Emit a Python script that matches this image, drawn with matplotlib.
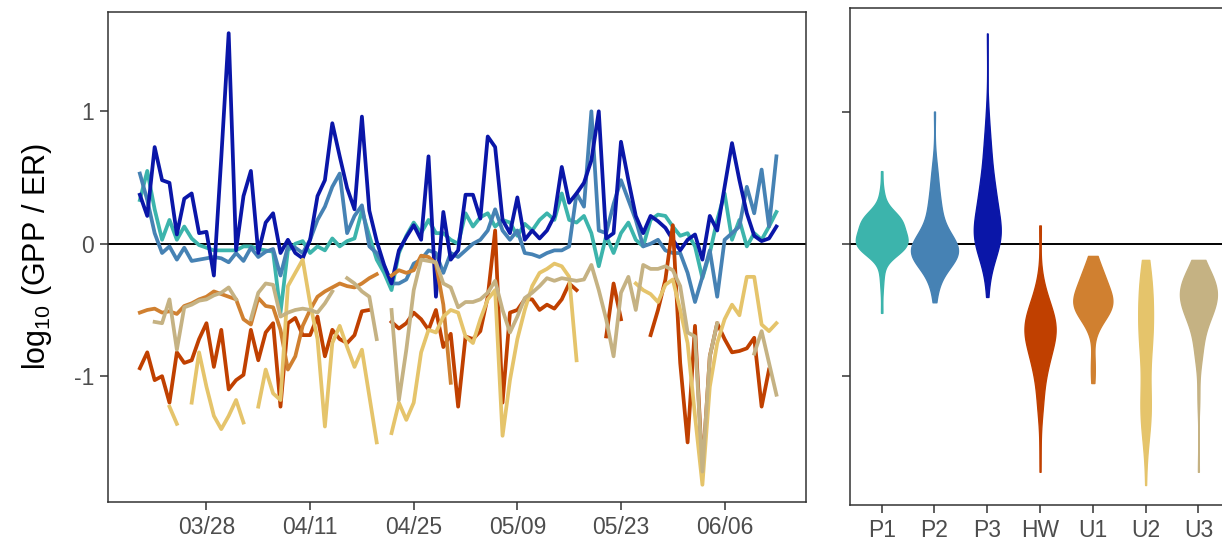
import numpy as np
import pandas as pd
import matplotlib
matplotlib.use('Agg')
import matplotlib.pyplot as plt
import matplotlib.dates as mdates

nan = np.nan
dates = pd.date_range('2021-03-19', periods=87, freq='D')
sites = ['P1', 'P2', 'P3', 'HW', 'U1', 'U2', 'U3']
colors = ['#3CB4AC', '#4682B4', '#0A16A8', '#C04000', '#D08030', '#E5C46B', '#C5B283']

P1 = [0.33, 0.55, 0.26, 0.03, 0.18, 0.03, 0.13, 0.04, -0.01, -0.03,
      -0.05, -0.05, -0.05, -0.05, -0.02, -0.02, -0.04, -0.05, -0.06, -0.52,
      -0.05, 0.0, 0.02, -0.07, -0.02, -0.05, 0.04, -0.02, 0.02, 0.04,
      0.25, 0.06, -0.12, -0.22, -0.35, -0.07, 0.06, 0.16, 0.08, 0.18,
      0.08, 0.08, 0.03, 0.0, 0.23, 0.13, 0.2, 0.23, 0.13, 0.18,
      0.16, 0.06, 0.15, 0.1, 0.18, 0.23, 0.18, 0.38, 0.18, 0.16,
      0.21, 0.08, -0.17, 0.06, -0.07, 0.08, 0.16, 0.03, -0.02, 0.18,
      0.22, 0.21, 0.13, 0.06, 0.08, -0.02, -0.26, -0.07, 0.18, 0.38,
      0.03, 0.18, -0.02, 0.08, 0.03, 0.13, 0.24]
P2 = [0.53, 0.33, 0.08, -0.07, -0.02, -0.12, -0.03, -0.13, -0.12, -0.11,
      -0.1, -0.11, -0.14, -0.07, -0.13, -0.03, -0.1, -0.06, -0.04, -0.24,
      -0.02, -0.03, -0.07, 0.03, 0.18, 0.28, 0.43, 0.53, 0.08, 0.21,
      0.29, -0.02, -0.07, -0.17, -0.3, -0.3, -0.27, -0.15, -0.12, -0.05,
      -0.07, -0.22, -0.07, -0.1, -0.05, 0.0, 0.03, 0.1, 0.26, 0.1,
      0.03, 0.1, -0.07, -0.08, -0.1, -0.07, -0.05, -0.05, -0.02, 0.38,
      0.28, 1.0, 0.1, 0.08, 0.3, 0.48, 0.33, 0.18, -0.02, 0.0,
      0.03, -0.05, -0.07, -0.07, -0.22, -0.44, -0.25, -0.05, -0.4, 0.03,
      0.08, 0.13, 0.43, 0.23, 0.56, 0.13, 0.66]
P3 = [0.37, 0.21, 0.73, 0.48, 0.46, 0.07, 0.34, 0.38, 0.08, 0.09,
      -0.24, 0.65, 1.59, -0.05, 0.36, 0.55, -0.07, 0.16, 0.23, -0.07,
      0.03, -0.07, -0.11, 0.03, 0.36, 0.48, 0.91, 0.66, 0.42, 0.26,
      0.96, 0.25, 0.02, -0.16, -0.3, -0.05, 0.05, 0.14, 0.03, 0.66,
      -0.4, 0.24, -0.12, -0.05, 0.37, 0.37, 0.19, 0.81, 0.73, 0.18,
      0.08, 0.35, 0.03, 0.1, 0.04, 0.1, 0.21, 0.58, 0.31, 0.38,
      0.46, 0.63, 1.0, 0.04, 0.08, 0.77, 0.48, 0.21, 0.08, 0.21,
      0.17, 0.12, 0.03, -0.05, 0.03, 0.07, -0.12, 0.21, 0.1, 0.43,
      0.76, 0.48, 0.23, 0.06, 0.02, 0.04, 0.13]
HW = [-0.94, -0.82, -1.03, -1.0, -1.2, -0.82, -0.9, -0.88, -0.72, -0.6,
      -0.93, -0.65, -1.1, -1.03, -0.99, -0.65, -0.88, -0.67, -0.6, -1.23,
      -0.6, -0.56, -0.69, -0.69, -0.55, -0.85, -0.65, -0.72, -0.75, -0.69,
      -0.51, -0.5, nan, nan, -0.59, -0.64, -0.6, -0.52, -0.57, -0.65,
      -0.5, -0.78, -0.68, -1.23, -0.7, -0.72, -0.66, -0.4, 0.1, -1.2,
      -0.52, -0.5, -0.42, -0.42, -0.5, -0.46, -0.49, -0.42, -0.3, -0.35,
      nan, nan, nan, -0.7, -0.3, -0.57, nan, nan, nan, -0.69,
      -0.5, -0.27, 0.14, -0.9, -1.5, -0.62, -1.72, -0.85, -0.6, -0.72,
      -0.82, -0.81, -0.79, -0.71, -1.23, -0.95, nan]
U1 = [-0.52, -0.5, -0.49, -0.52, -0.51, -0.53, -0.47, -0.45, -0.42, -0.4,
      -0.36, -0.38, -0.4, -0.42, -0.57, -0.61, -0.41, -0.47, -0.48, -0.65,
      -0.95, -0.85, -0.62, -0.5, -0.4, -0.36, -0.33, -0.3, -0.32, -0.33,
      -0.3, -0.26, -0.23, nan, -0.24, -0.2, -0.22, -0.2, -0.09, -0.1,
      -0.15, -0.46, -1.05] + [nan] * 44
U2 = [nan, nan, nan, nan, -1.23, -1.36, nan, -1.2, -0.82, -1.08,
      -1.3, -1.4, -1.3, -1.18, -1.35, nan, -1.23, -0.95, -1.13, -1.18,
      -0.32, -0.22, -0.12, -0.45, -0.72, -1.38, -0.75, -0.62, -0.78, -0.93,
      -0.8, -1.15, -1.5, nan, -1.43, -1.2, -1.33, -1.2, -0.82, -0.65,
      -0.67, -0.55, -0.5, -0.52, -0.7, -0.75, -0.57, -0.42, -0.35, -1.45,
      -1.03, -0.72, -0.5, -0.32, -0.22, -0.19, -0.15, -0.17, -0.25, -0.88,
      nan, nan, nan, nan, nan, nan, nan, -0.3, -0.35, -0.38,
      -0.44, -0.31, -0.27, -0.5, -0.75, -1.3, -1.82, -1.08, -0.75, -0.57,
      -0.46, -0.54, -0.25, -0.25, -0.61, -0.66, -0.6]
U3 = [nan, nan, -0.59, -0.6, -0.42, -0.8, -0.48, -0.46, -0.43, -0.42,
      -0.39, -0.37, -0.33, -0.42, nan, -0.57, -0.37, -0.3, -0.31, -0.55,
      -0.52, -0.5, -0.49, -0.5, -0.52, -0.45, -0.36, nan, -0.26, -0.3,
      -0.36, -0.4, -0.72, nan, -0.5, -1.18, -0.8, -0.35, -0.12, -0.13,
      -0.14, -0.3, -0.33, -0.48, -0.44, -0.44, -0.42, -0.37, -0.28, -0.5,
      -0.67, -0.55, -0.41, -0.37, -0.32, -0.26, -0.28, -0.26, -0.27, -0.28,
      -0.27, -0.16, -0.35, -0.57, -0.85, -0.37, -0.25, -0.5, -0.16, -0.19,
      -0.19, -0.17, -0.2, -0.32, -0.67, -0.7, -1.72, -0.85, -0.6, nan,
      nan, nan, nan, -0.83, -0.66, -0.9, -1.14]
series = [P1, P2, P3, HW, U1, U2, U3]
violin_widths = [0.98, 0.89, 0.51, 0.59, 0.74, 0.28, 0.70]

plt.rcParams['font.family'] = ['Liberation Sans', 'DejaVu Sans']
plt.rcParams['mathtext.default'] = 'regular'
spine_c = '#333333'
tick_c = '#4D4D4D'

fig = plt.figure(figsize=(12.22, 5.5), dpi=100)
ax1 = fig.add_axes([0.0884, 0.0873, 0.5712, 0.8909])
ax2 = fig.add_axes([0.6956, 0.082, 0.311, 0.903])

# time series
ax1.axhline(0, color='black', lw=1.4, zorder=1)
for s, c in zip(series, colors):
    ax1.plot(dates, s, color=c, lw=2.7, zorder=2)
ax1.set_xlim(dates[0] - pd.Timedelta(days=4.3), dates[0] + pd.Timedelta(days=90))
ax1.set_ylim(-1.95, 1.75)
ax1.set_yticks([-1, 0, 1])
ax1.set_yticklabels(['-1', '0', '1'])
ticks = pd.to_datetime(['2021-03-28', '2021-04-11', '2021-04-25', '2021-05-09', '2021-05-23', '2021-06-06'])
ax1.set_xticks(ticks)
ax1.xaxis.set_major_formatter(mdates.DateFormatter('%m/%d'))
ax1.set_ylabel(r'log$_{10}$ (GPP / ER)', fontsize=22, labelpad=14)

# violins
data = [np.array(s)[~np.isnan(s)] for s in series]
pos = np.arange(len(sites))
ax2.axhline(0, color='black', lw=1.4, zorder=1)
parts = ax2.violinplot(data, positions=pos, widths=violin_widths, showextrema=False,
                       bw_method=0.45, points=200)
for body, c in zip(parts['bodies'], colors):
    body.set_facecolor(c)
    body.set_edgecolor(c)
    body.set_alpha(1)
    body.set_zorder(2)
ax2.set_xlim(-0.6, 6.6)
ax2.set_ylim(-1.97, 1.78)
ax2.set_xticks(pos)
ax2.set_xticklabels(sites)
ax2.set_yticks([-1, 0, 1])
ax2.set_yticklabels([])

for ax in (ax1, ax2):
    for sp in ax.spines.values():
        sp.set_color(spine_c)
        sp.set_linewidth(1.1)
    ax.tick_params(length=6, width=1.1, color=spine_c, labelcolor=tick_c, labelsize=16.5, pad=4)

plt.savefig('out.png', dpi=100)
